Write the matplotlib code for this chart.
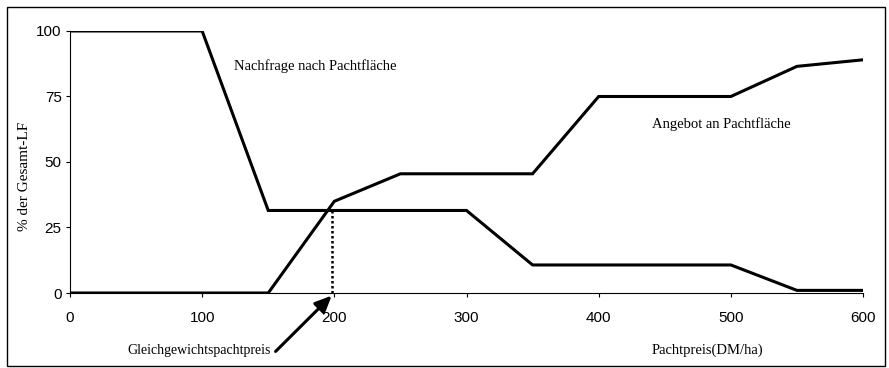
import matplotlib
matplotlib.use("Agg")
import matplotlib.pyplot as plt
from matplotlib.patches import Rectangle

# Data
pacht_preis = [0, 50, 100, 150, 200, 250, 300, 350, 400, 450, 500, 550, 600]
nachfrage = [100, 100, 100, 31.5, 31.5, 31.5, 31.5, 10.7, 10.7, 10.7, 10.7, 1, 1]
angebot = [0, 0, 0, 0, 35, 45.5, 45.5, 45.5, 75, 75, 75, 86.5, 89]
gleichgewicht_x = 198
gleichgewicht_y = 31.5

x_ticks = [0, 100, 200, 300, 400, 500, 600]
y_ticks = [0, 25, 50, 75, 100]

serif = "Liberation Serif"
sans = "Liberation Sans"

fig = plt.figure(figsize=(8.89, 3.68), dpi=100)
ax = fig.add_axes([0.0787, 0.2038, 0.8921, 0.712])

ax.plot(pacht_preis, nachfrage, color="black", linewidth=2.2, solid_joinstyle="miter")
ax.plot(pacht_preis, angebot, color="black", linewidth=2.2, solid_joinstyle="miter")
ax.plot([gleichgewicht_x, gleichgewicht_x], [0, gleichgewicht_y],
        color="black", linewidth=1.8, linestyle=(0, (1, 1)))

ax.set_xlim(0, 600)
ax.set_ylim(0, 100)
ax.set_xticks(x_ticks)
ax.set_yticks(y_ticks)
ax.tick_params(direction="out", length=3, width=0.8, labelsize=11)
ax.tick_params(axis="x", pad=10)
ax.tick_params(axis="y", pad=3)
for lab in ax.get_xticklabels() + ax.get_yticklabels():
    lab.set_family(sans)
for side in ("top", "right"):
    ax.spines[side].set_visible(False)
for side in ("left", "bottom"):
    ax.spines[side].set_linewidth(0.8)

fig.text(0.027, 0.52, "% der Gesamt-LF", family=serif, fontsize=11,
         rotation=90, va="center", ha="center")

ax.text(0.207, 0.865, "Nachfrage nach Pachtfläche", transform=ax.transAxes,
        family=serif, fontsize=10.5, va="center", ha="left")
ax.text(0.734, 0.645, "Angebot an Pachtfläche", transform=ax.transAxes,
        family=serif, fontsize=10.5, va="center", ha="left")
fig.text(0.733, 0.048, "Pachtpreis(DM/ha)", family=serif, fontsize=10.5,
         va="center", ha="left")
fig.text(0.305, 0.048, "Gleichgewichtspachtpreis", family=serif, fontsize=10,
         va="center", ha="right")

# arrow pointing at the equilibrium price
ax.annotate("", xy=(gleichgewicht_x, -1), xycoords="data",
            xytext=(0.31, 0.045), textcoords="figure fraction",
            arrowprops=dict(arrowstyle="-|>,head_length=1.0,head_width=0.45",
                            color="black", lw=2.2, shrinkA=0, shrinkB=0),
            annotation_clip=False)

# frame round the whole figure
fig.patches.append(Rectangle((0.008, 0.006), 0.988, 0.975, transform=fig.transFigure,
                             fill=False, edgecolor="black", linewidth=1.0))

fig.savefig("out.png", dpi=100)
